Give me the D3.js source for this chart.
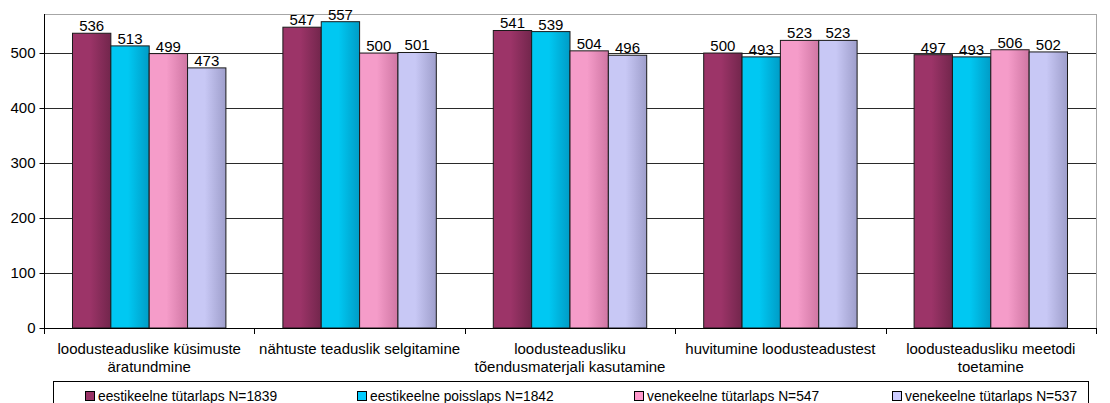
<!DOCTYPE html>
<html>
<head>
<meta charset="utf-8">
<script src="https://cdn.jsdelivr.net/npm/d3@7"></script>
<style>
  html, body { margin: 0; padding: 0; background: #fff; }
  svg { display: block; font-family: "Liberation Sans", Arial, sans-serif; }
</style>
</head>
<body>
<svg id="chart" width="1110" height="403"></svg>
<script>
// ---- data ----
const categories = [
  "loodusteaduslike küsimuste\näratundmine",
  "nähtuste teaduslik selgitamine",
  "loodusteadusliku\ntõendusmaterjali kasutamine",
  "huvitumine loodusteadustest",
  "loodusteadusliku meetodi\ntoetamine"
];
const seriesNames = [
  "eestikeelne tütarlaps N=1839",
  "eestikeelne poisslaps N=1842",
  "venekeelne tütarlaps N=547",
  "venekeelne tütarlaps N=537"
];
const estGirls = [536, 547, 541, 500, 497];
const estBoys  = [513, 557, 539, 493, 493];
const rusGirls547 = [499, 500, 504, 523, 506];
const rusGirls537 = [473, 501, 496, 523, 502];
const yTicks = [0, 100, 200, 300, 400, 500];

const seriesValues = [estGirls, estBoys, rusGirls547, rusGirls537];

// ---- styles ----
const colorsLight = ["#9c3468", "#00c8f2", "#f59cc9", "#c8c8f5"];
const colorsDark  = ["#72264c", "#009cc6", "#cf76a3", "#9e9ecb"];
const legendColors = ["#993366", "#00ccff", "#ff99cc", "#ccccff"];

const svg = d3.select("#chart");
const plot = { left: 44, right: 1096, top: 14, bottom: 328 };

const defs = svg.append("defs");
colorsLight.forEach((c, i) => {
  const g = defs.append("linearGradient").attr("id", "grad" + i)
    .attr("x1", "0%").attr("x2", "100%").attr("y1", "0%").attr("y2", "0%");
  g.append("stop").attr("offset", "0%").attr("stop-color", c);
  g.append("stop").attr("offset", "45%").attr("stop-color", c);
  g.append("stop").attr("offset", "100%").attr("stop-color", colorsDark[i]);
});

const x0 = d3.scaleBand().domain(d3.range(categories.length))
  .range([plot.left, plot.right]).paddingInner(0).paddingOuter(0);
const x1 = d3.scaleBand().domain(d3.range(seriesNames.length))
  .range([0, x0.bandwidth()]).paddingInner(0).paddingOuter(0.743);
const y = d3.scaleLinear().domain([0, 571]).range([plot.bottom, plot.top]);

// plot frame (light gray top/right)
svg.append("rect")
  .attr("x", plot.left).attr("y", plot.top)
  .attr("width", plot.right - plot.left).attr("height", plot.bottom - plot.top)
  .attr("fill", "none").attr("stroke", "#a6a6a6").attr("stroke-width", 1)
  .attr("shape-rendering", "crispEdges");

// gridlines
svg.append("g").selectAll("line").data(yTicks.filter(t => t > 0)).join("line")
  .attr("x1", plot.left).attr("x2", plot.right)
  .attr("y1", d => Math.round(y(d)) + 0.5).attr("y2", d => Math.round(y(d)) + 0.5)
  .attr("stroke", "#2a2a2a").attr("stroke-width", 1);

// y axis
const yAxis = d3.axisLeft(y).tickValues(yTicks).tickSize(5).tickPadding(4).tickFormat(d3.format("d"));
const gy = svg.append("g").attr("transform", `translate(${plot.left + 0.5},0)`)
  .call(yAxis);
gy.select(".domain").attr("d", `M0,${plot.top}V${plot.bottom + 5}`).attr("stroke", "#000");
gy.selectAll(".tick line").attr("stroke", "#000");
gy.selectAll(".tick text").attr("font-size", 15).attr("fill", "#000")
  .attr("font-family", "Liberation Sans, Arial, sans-serif");
gy.selectAll(".tick").attr("transform", d => `translate(0,${Math.round(y(d)) + 0.5})`);

// bars
const groups = svg.append("g").selectAll("g").data(categories).join("g")
  .attr("transform", (d, i) => `translate(${x0(i)},0)`);

groups.selectAll("rect").data((d, i) => seriesValues.map((s, j) => ({ j, v: s[i] })))
  .join("rect")
  .attr("x", d => x1(d.j))
  .attr("y", d => y(d.v))
  .attr("width", x1.bandwidth())
  .attr("height", d => y(0) - y(d.v))
  .attr("fill", d => `url(#grad${d.j})`)
  .attr("stroke", "#1a1a1a").attr("stroke-width", 1);

// data labels
const labG = groups.selectAll("g.lab").data((d, i) => seriesValues.map((s, j) => ({ j, v: s[i] })))
  .join("g").attr("class", "lab");
labG.append("text")
  .attr("x", d => x1(d.j) + x1.bandwidth() / 2)
  .attr("y", d => y(d.v) - 2)
  .attr("text-anchor", "middle")
  .attr("font-size", 15).attr("fill", "#000")
  .text(d => d.v);

// x axis
const gx = svg.append("g");
gx.append("line").attr("x1", plot.left).attr("x2", plot.right)
  .attr("y1", plot.bottom + 0.5).attr("y2", plot.bottom + 0.5)
  .attr("stroke", "#000");
gx.selectAll("line.tk").data(d3.range(categories.length + 1)).join("line").attr("class", "tk")
  .attr("x1", i => Math.round(i < categories.length ? x0(i) : plot.right) + 0.5)
  .attr("x2", i => Math.round(i < categories.length ? x0(i) : plot.right) + 0.5)
  .attr("y1", plot.bottom).attr("y2", plot.bottom + 6)
  .attr("stroke", "#000");
const xl = gx.selectAll("text.xl").data(categories).join("text").attr("class", "xl")
  .attr("x", (d, i) => x0(i) + x0.bandwidth() / 2)
  .attr("y", 354)
  .attr("text-anchor", "middle").attr("font-size", 15).attr("fill", "#000");
xl.selectAll("tspan").data(d => d.split("\n")).join("tspan")
  .attr("x", function() { return this.parentNode.getAttribute("x"); })
  .attr("dy", (d, k) => k === 0 ? 0 : 17.5)
  .text(d => d);

// legend
const legendX = [85, 357, 634, 892];
svg.append("rect").attr("x", 53.5).attr("y", 381.5).attr("width", 1035).attr("height", 40)
  .attr("fill", "#fff").attr("stroke", "#000").attr("stroke-width", 1);
const lg = svg.append("g").selectAll("g").data(seriesNames).join("g")
  .attr("transform", (d, i) => `translate(${legendX[i]},0)`);
lg.append("rect").attr("x", 0.5).attr("y", 391.5).attr("width", 9).attr("height", 9)
  .attr("fill", (d, i) => legendColors[i]).attr("stroke", "#000").attr("stroke-width", 1);
lg.append("text").attr("x", 13).attr("y", 400.5).attr("font-size", 13.8).attr("fill", "#000")
  .text(d => d);
</script>
</body>
</html>
